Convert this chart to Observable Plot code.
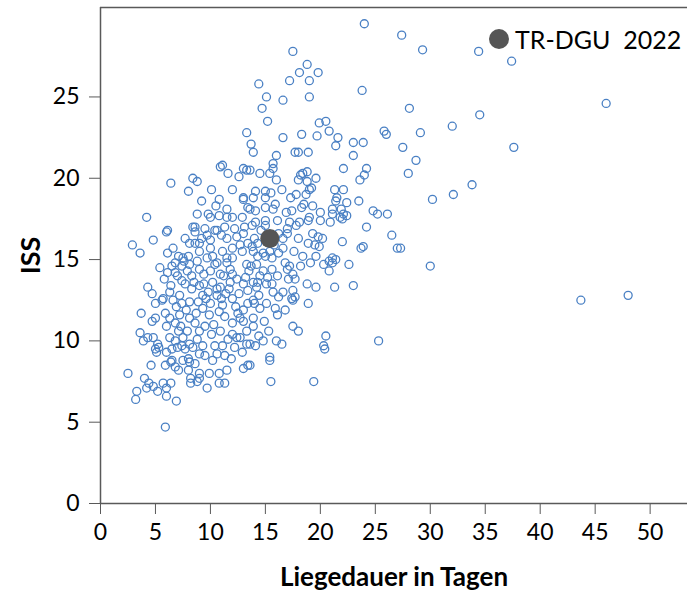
<!DOCTYPE html>
<html><head><meta charset="utf-8">
<script src="https://cdn.jsdelivr.net/npm/d3@7"></script>
<script src="https://cdn.jsdelivr.net/npm/@observablehq/plot@0.6"></script>
<style>
body{margin:0;background:#fff;}
#wrap{position:relative;width:687px;height:594px;font-family:Lato,"Open Sans",sans-serif;}
#legend{position:absolute;left:489px;top:24px;display:flex;align-items:center;white-space:pre;font-size:25px;color:#000;}
#legend span.dot{display:inline-block;width:20px;height:20px;border-radius:50%;background:#555;margin-right:6px;}
</style>
</head><body>
<div id="wrap"><div id="legend"><span class="dot"></span><span>TR-DGU  2022</span></div></div>
<script>
// Liegedauer (days) and ISS, grouped by region of the chart
const daysA=[24.0,27.4,29.3,34.4,37.4,17.5,18.8,18.1,19.8,17.2,19.0,14.4,23.8,15.1,16.6,19.0,14.7,46.0,28.1,34.5];
const issA =[29.5,28.8,27.9,27.8,27.2,27.8,27.0,26.5,26.5,26.0,26.0,25.8,25.4,25.0,24.8,25.0,24.3,24.6,24.3,23.9];

const daysB=[15.2,19.9,20.5,20.8,18.3,19.7,21.6,16.6,23.0,23.9,
21.4,25.8,26.0,13.7,13.9,17.7,18.0,18.9,16.0,23.0,
15.7,15.7,22.1,24.2,14.5,15.4,18.4,18.8,18.2,19.6,
24.0,23.6,16.0,18.0,18.8,13.6,19.2,19.0,21.3,22.1,
16.5,14.1,15.0,15.5,15.0,13.9,17.8,17.3,18.7,21.5,
22.4,21.4,23.5,19.3,18.5,18.3,15.9,15.7,15.0,14.1,
13.6,17.4,20.0,21.1,21.9,22.1,22.4,21.1,24.8,25.2,
26.1,19.0,18.9,18.1,17.2,16.1,15.0,14.1,20.0,20.9,
21.8,22.0,24.2,15.0,13.8,17.0];
const issB=[23.5,23.4,23.5,22.9,22.7,22.6,22.5,22.5,22.2,22.2,
22.0,22.9,22.7,22.1,21.6,21.6,21.6,21.6,21.4,21.4,
20.9,20.6,20.6,20.6,20.3,20.3,20.3,20.4,20.2,20.0,
20.2,19.9,19.9,19.9,19.8,20.5,19.4,19.3,19.3,19.3,
19.3,19.2,19.2,19.1,18.8,18.8,19.0,18.8,19.0,18.8,
18.5,18.6,18.6,18.3,18.4,18.2,18.4,18.1,18.2,18.0,
18.1,18.0,17.9,18.1,18.1,17.8,17.7,17.8,18.0,17.8,
17.8,17.6,17.4,17.3,17.3,17.4,17.4,17.3,17.4,17.3,
17.6,17.5,17.0,17.1,17.1,16.9];

const daysC=[18.0,19.3,19.8,20.2,18.9,19.5,19.9,22.0,23.7,23.9,
26.5,27.0,16.6,17.0,14.0,14.3,13.9,14.8,15.0,14.3,
15.4,16.2,16.6,15.6,20.3,20.8,21.1,21.4,21.1,20.8,
22.6,16.8,17.2,17.0,14.8,14.5,15.6,16.1,17.5,17.1,
17.7,18.8,19.6,21.3,23.0,13.9,14.3,15.1,15.6,14.2,
15.7,17.5,17.4,17.7,17.5,16.2,18.9,13.9,14.0,14.5,
15.1,16.1,13.9,13.9,17.5,18.0,15.3,14.4,14.8,13.6,
14.1,16.0,16.5,20.5,20.3,20.4,25.3,15.4,13.6,15.4,
15.5,19.4];
const issC=[16.3,16.6,16.4,16.3,16.0,15.9,15.8,16.1,15.7,15.8,
16.5,15.7,16.3,16.6,16.3,16.0,15.5,15.4,15.2,15.2,
15.5,15.4,15.7,15.1,14.7,14.9,15.1,15.0,14.8,14.3,
14.7,14.8,14.6,14.4,14.3,14.0,14.4,14.0,14.1,13.8,
13.8,13.5,13.3,13.3,13.4,13.6,13.6,13.5,13.5,13.3,
13.0,13.1,12.6,12.7,12.5,12.7,12.3,12.5,12.3,12.0,
12.3,11.6,11.4,10.9,10.9,10.6,10.6,10.3,10.0,9.8,
9.7,10.0,9.8,10.3,9.7,9.5,10.0,9.0,8.5,8.8,
7.5,7.5];

const daysD=[32.0,29.1,27.5,37.6,28.7,28.0,33.8,32.1,30.2,27.3,30.0,43.7,48.0];
const issD =[23.2,22.8,21.9,21.9,21.1,20.3,19.6,19.0,18.7,15.7,14.6,12.5,12.8];

const daysE=[13.3,10.9,11.1,11.6,13.0,13.3,12.6,8.4,8.8,6.4,
8.0,10.1,12.0,10.8,9.2,13.0,13.0,10.5,11.5,13.4,
4.2,8.8,9.8,10.0,10.8,11.5,12.0,12.9,6.1,8.4,
8.6,9.5,10.4,11.3,12.2,13.1];
const issE=[22.8,20.7,20.8,20.3,20.6,20.5,20.1,20.0,19.8,19.7,
19.2,19.3,19.3,18.7,18.6,18.8,18.7,18.3,18.1,18.2,
17.6,17.8,17.8,17.6,17.7,17.6,17.6,17.6,16.8,17.0,
17.0,16.9,16.8,17.0,16.9,17.0];

const daysF=[6.0,2.9,3.6,4.8,6.6,7.1,8.6,9.7,10.6,8.1,
8.6,9.0,6.8,6.5,6.1,6.8,7.4,8.1,7.9,10.2,
11.1,11.5,4.3,4.7,5.0,5.6,5.7,6.3,3.7,4.7,
5.0,3.6,3.9,4.3,4.8,5.2,5.0,5.3,5.1,6.0,
6.5,7.0,7.4,6.5,8.0];
const issF=[16.7,15.9,15.4,16.2,15.7,15.2,16.7,16.5,16.8,16.0,
16.0,16.0,14.8,14.6,14.2,14.2,14.6,14.7,14.3,15.2,
15.5,15.1,13.3,12.9,12.3,12.5,12.6,13.0,11.7,11.2,
11.4,10.5,10.0,10.2,10.2,9.8,9.5,9.6,9.3,9.3,
9.5,9.6,9.7,8.8,8.9];

const daysG=[9.3,9.5,10.4,10.6,11.1,11.3,12.0,12.4,12.7,13.3,
13.3,13.0,13.0,12.0,11.3,11.1,12.0,10.6,9.8,9.0,
8.3,7.7,7.4,7.2,7.4,6.6,5.9,6.3,6.0,6.8,
7.1,6.3,7.5,7.9,8.1,8.8,9.0,8.6,8.1,9.3,
10.0,9.3,10.9,11.8,12.4,13.0,12.0,10.9,10.0,9.0,
10.6,11.5,12.0,12.9,13.4,13.0,11.5,10.4,9.7,8.8,
8.0,7.5,9.0,10.0,12.0,13.3,13.4,13.4,12.7];
const issG=[9.7,9.1,9.7,9.2,9.7,9.1,10.4,10.2,10.2,9.8,
10.6,11.2,11.9,11.1,11.5,12.2,12.6,12.8,13.0,13.4,
13.2,13.5,13.7,12.8,12.3,12.5,11.7,11.4,10.9,11.1,
10.6,10.2,10.2,10.6,9.8,10.1,10.6,11.1,11.4,12.0,
12.3,12.8,13.3,13.6,13.8,13.5,14.1,14.1,14.3,14.4,
14.8,14.8,15.1,15.5,16.0,16.6,16.3,14.7,15.1,14.9,
15.2,15.1,15.5,15.7,15.7,14.7,13.1,12.3,11.4];

const daysH=[2.5,4.6,5.9,6.4,6.8,7.1,8.0,4.0,4.4,4.2,
4.8,3.3,3.2,5.2,5.7,6.0,6.4,6.0,6.9,5.9,
8.2,8.2,8.8,9.0,9.0,9.9,9.7,10.8,11.5,10.8,
11.3,13.0,13.4,7.5,8.1,8.6];
const issH=[8.0,8.5,8.5,8.7,8.4,8.2,8.2,7.7,7.4,7.1,
7.2,6.9,6.4,6.9,7.4,7.1,7.4,6.6,6.3,4.7,
7.7,7.4,7.5,8.0,7.7,8.0,7.1,8.0,8.2,7.4,
7.4,8.3,8.5,8.8,8.7,8.6];

const daysI=[7.0,7.6,8.3,8.5,8.9,9.6,9.9,10.3,10.8,11.4,
11.7,12.3,12.6,13.2,13.5,10.2,9.4,8.7,7.8,7.2,
6.9,6.4,5.8,5.4,6.1,7.7,9.2,10.0,11.0,12.4,
12.7,11.8,11.2,10.6,9.5,10.1,10.9,11.6,12.2,12.9,
11.9,10.2,9.0,8.4,7.7,6.8,7.3,8.1,9.4,11.0,
12.5,13.8,14.6,16.2,15.8,17.6,18.4,18.2,16.6,14.4,
15.9,16.8,14.9,13.7,14.2,15.2,19.1,19.6,16.9,17.8];
const issI=[14.0,14.9,14.0,13.6,12.4,12.6,11.6,11.0,11.8,12.9,
13.2,12.1,12.9,13.9,14.3,13.6,14.1,11.7,11.9,11.6,
12.1,13.4,13.8,14.5,15.4,16.3,16.3,16.2,16.5,16.4,
15.9,14.4,14.0,13.2,10.9,10.4,10.6,10.1,9.6,9.3,
8.9,8.8,9.2,9.6,9.5,10.0,10.9,12.4,13.5,12.6,
11.7,15.8,16.8,16.6,15.9,15.5,15.2,14.6,13.0,12.8,
12.0,11.9,11.2,14.6,14.7,13.9,14.8,15.2,17.9,17.1];

// TR-DGU 2022 reference point
const hlDays=[15.4];
const hlIss=[16.3];

const xTicks=[0,5,10,15,20,25,30,35,40,45,50];
const yTicks=[0,5,10,15,20,25];
const xMax=53.4, yMax=30.5;

const days=[].concat(daysA,daysB,daysC,daysD,daysE,daysF,daysG,daysH,daysI);
const iss=[].concat(issA,issB,issC,issD,issE,issF,issG,issH,issI);
const pts=days.map((d,i)=>({d,s:iss[i]}));
const hl=hlDays.map((d,i)=>({d,s:hlIss[i]}));

const axisColor="#595959";
const chart=Plot.plot({
  width:687,height:594,
  marginLeft:100,marginRight:0,marginTop:7,marginBottom:91,
  style:{fontFamily:"Lato, 'Open Sans', sans-serif",fontSize:"23px",color:"#000",background:"#fff",overflow:"visible"},
  x:{domain:[0,xMax]},
  y:{domain:[0,yMax]},
  marks:[
    Plot.ruleY([yMax],{stroke:axisColor,strokeWidth:1.5}),
    Plot.dot(pts,{x:"d",y:"s",r:4,stroke:"#4a80c4",strokeWidth:1.3,fill:"none"}),
    Plot.dot(hl,{x:"d",y:"s",r:9.5,fill:"#555",stroke:"none"}),
    Plot.axisX({ticks:xTicks,tickSize:11,tickPadding:9,stroke:axisColor,label:"Liegedauer in Tagen",labelAnchor:"center",labelArrow:"none",labelOffset:82}),
    Plot.axisY({ticks:yTicks,tickSize:11,tickPadding:10,stroke:axisColor,label:"ISS",labelAnchor:"center",labelArrow:"none",labelOffset:80}),
    Plot.ruleY([0],{stroke:axisColor,strokeWidth:1.5}),
    Plot.ruleX([0],{stroke:axisColor,strokeWidth:1.5})
  ]
});
d3.select(chart).selectAll('[aria-label="x-axis label"]').attr("font-weight","bold").attr("font-size","26px");
d3.select(chart).selectAll('[aria-label="y-axis label"]').attr("font-weight","bold").attr("font-size","27px");
document.getElementById("wrap").prepend(chart);
</script>
</body></html>
